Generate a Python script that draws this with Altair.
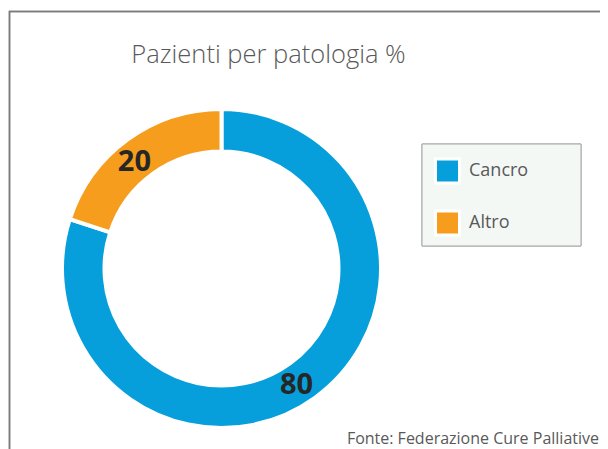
import altair as alt
import pandas as pd

categories = ["Cancro", "Altro"]
values = [80, 20]
colors = ["#069fdb", "#f79d1e"]
title_text = "Pazienti per patologia %"
source_text = "Fonte: Federazione Cure Palliative"

df = pd.DataFrame({"cat": categories, "val": values, "ord": list(range(len(categories)))})

W, H = 592, 441
CX, CY = 221.5 - 8, 268.5 - 8

color_scale = alt.Scale(domain=categories, range=colors)

border = alt.Chart(df).mark_rect(fill=None, stroke="#7a7a7a", strokeWidth=1.5).encode(
    x=alt.value(1.5), y=alt.value(3.5), x2=alt.value(800), y2=alt.value(800)
)

legend_box = alt.Chart(df).mark_rect(fill="#f4f8f5", stroke="#a6a6a6", strokeWidth=1).encode(
    x=alt.value(422 - 8), y=alt.value(144 - 8), x2=alt.value(581 - 8), y2=alt.value(246 - 8)
)

base = alt.Chart(df).encode(
    theta=alt.Theta("val:Q", stack=True),
    order=alt.Order("ord:Q"),
)

arcs = base.mark_arc(outerRadius=159.5, innerRadius=117, stroke="white", strokeWidth=4).encode(
    color=alt.Color(
        "cat:N",
        scale=color_scale,
        sort=categories,
        legend=alt.Legend(
            title=None,
            orient="none",
            legendX=434 - 8,
            legendY=157.5 - 8,
            symbolType="square",
            symbolSize=576,
            symbolStrokeColor="white",
            symbolStrokeWidth=3,
            symbolOpacity=1,
            labelFontSize=18,
            labelFont="Open Sans",
            labelColor="#595959",
            labelOffset=8,
            rowPadding=15,
            padding=0,
        ),
    ),
    x=alt.value(CX),
    y=alt.value(CY),
)

labels = base.mark_text(
    radius=138, fontSize=29, fontWeight="bold", font="Open Sans", color="#262626", dx=-6, dy=5
).encode(
    text=alt.Text("val:Q"),
    x=alt.value(CX),
    y=alt.value(CY),
)

title = alt.Chart(pd.DataFrame({"t": [title_text]})).mark_text(
    fontSize=25.5, font="Open Sans", fontWeight=300, color="#595959", baseline="alphabetic", align="center"
).encode(text="t:N", x=alt.value(268.5 - 8), y=alt.value(63 - 8))

source = alt.Chart(pd.DataFrame({"t": [source_text]})).mark_text(
    fontSize=16, font="Open Sans", color="#595959", baseline="alphabetic", align="right"
).encode(text="t:N", x=alt.value(599 - 8), y=alt.value(443.5 - 8))

chart = alt.layer(border, legend_box, arcs, labels, title, source).properties(
    width=W, height=H, autosize=alt.AutoSizeParams(type="none"), padding=0
).configure_view(stroke=None)

chart.save("out.html", embed_options={"renderer": "svg", "actions": False})
